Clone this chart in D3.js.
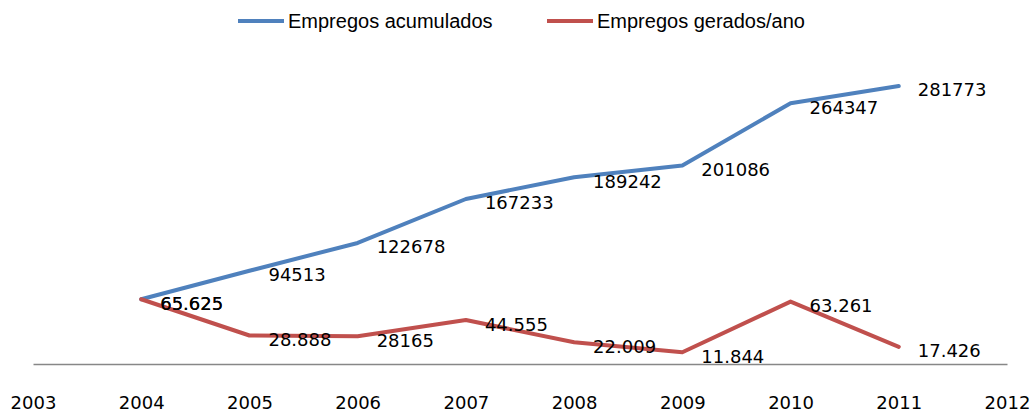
<!DOCTYPE html>
<html>
<head>
<meta charset="utf-8">
<script src="https://cdn.jsdelivr.net/npm/d3@7"></script>
<style>
  html, body { margin: 0; padding: 0; background: #fff; }
  svg { display: block; }
</style>
</head>
<body>
<svg id="chart" width="1034" height="414"></svg>
<script>
// ---- data ----
const years = [2004, 2005, 2006, 2007, 2008, 2009, 2010, 2011];
const tickYears = [2003, 2004, 2005, 2006, 2007, 2008, 2009, 2010, 2011, 2012];
const acumulados = [65625, 94513, 122678, 167233, 189242, 201086, 264347, 281773];
const acumuladosLabels = ["65.625", "94513", "122678", "167233", "189242", "201086", "264347", "281773"];
const gerados = [65625, 28888, 28165, 44555, 22009, 11844, 63261, 17426];
const geradosLabels = ["65.625", "28.888", "28165", "44.555", "22.009", "11.844", "63.261", "17.426"];
const seriesNames = ["Empregos acumulados", "Empregos gerados/ano"];

// ---- chart ----
const svg = d3.select("#chart");
const colors = ["#4F81BD", "#C0504D"];
const numFont = "'DejaVu Sans', sans-serif";
const legFont = "'Liberation Sans', Arial, sans-serif";

const x = d3.scaleLinear().domain([2003, 2012]).range([33, 1007]);
const y = d3.scaleLinear().domain([0, 300000]).range([364, 68]);

// x axis
const xAxis = d3.axisBottom(x)
  .tickValues(tickYears)
  .tickFormat(d3.format("d"))
  .tickSize(0)
  .tickSizeOuter(0)
  .tickPadding(32);
const gx = svg.append("g").attr("transform", `translate(0,${y(0)})`).call(xAxis);
gx.select(".domain").attr("stroke", "#878787").attr("stroke-width", 1.5);
gx.selectAll(".tick text")
  .attr("font-family", numFont)
  .attr("font-size", 18)
  .attr("fill", "#000");

const series = [
  { values: acumulados, labels: acumuladosLabels },
  { values: gerados, labels: geradosLabels }
];

const line = d3.line().x((d, i) => x(years[i])).y(d => y(d));

series.forEach((s, si) => {
  svg.append("path")
    .datum(s.values)
    .attr("fill", "none")
    .attr("stroke", colors[si])
    .attr("stroke-width", 4)
    .attr("stroke-linejoin", "round")
    .attr("stroke-linecap", "round")
    .attr("d", line);
});

series.forEach((s, si) => {
  svg.append("g").selectAll("text")
    .data(s.values)
    .join("text")
    .attr("x", (d, i) => x(years[i]) + 19)
    .attr("y", d => y(d) + 10.5)
    .attr("font-family", numFont)
    .attr("font-size", 18)
    .attr("fill", "#000")
    .text((d, i) => s.labels[i]);
});

// legend
const legendX = [238, 547];
seriesNames.forEach((name, i) => {
  const g = svg.append("g").attr("transform", `translate(${legendX[i]},21)`);
  g.append("line")
    .attr("x1", 0).attr("x2", 46).attr("y1", 0).attr("y2", 0)
    .attr("stroke", colors[i]).attr("stroke-width", 4);
  g.append("text")
    .attr("x", 50).attr("y", 7)
    .attr("font-family", legFont)
    .attr("font-size", 20)
    .attr("fill", "#000")
    .text(name);
});
</script>
</body>
</html>
